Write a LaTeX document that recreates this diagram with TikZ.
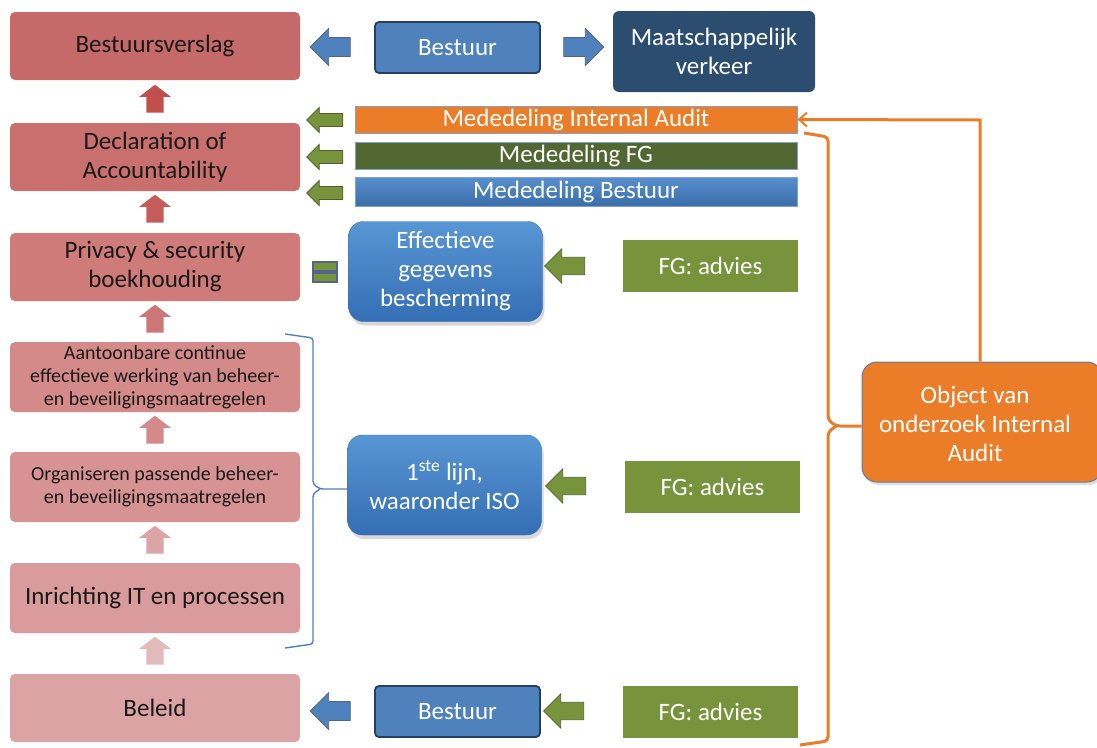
\documentclass[tikz,border=0pt]{standalone}
\usepackage{fontspec}
\setmainfont{Carlito}
\usetikzlibrary{shapes.arrows,arrows.meta,shadows}
\definecolor{rA}{RGB}{197,106,105}
\definecolor{rB}{RGB}{201,112,111}
\definecolor{rC}{RGB}{207,123,122}
\definecolor{rD}{RGB}{213,138,138}
\definecolor{rE}{RGB}{215,147,147}
\definecolor{rF}{RGB}{217,155,155}
\definecolor{rG}{RGB}{219,163,163}
\definecolor{aA}{RGB}{192,80,77}
\definecolor{aB}{RGB}{196,92,90}
\definecolor{aC}{RGB}{205,118,117}
\definecolor{aD}{RGB}{212,138,138}
\definecolor{aE}{RGB}{220,164,164}
\definecolor{aF}{RGB}{226,186,186}
\definecolor{bluef}{RGB}{79,129,189}
\definecolor{blued}{RGB}{38,64,98}
\definecolor{bluel}{RGB}{88,150,212}
\definecolor{bluek}{RGB}{52,110,180}
\definecolor{navy}{RGB}{43,78,112}
\definecolor{greenf}{RGB}{119,147,60}
\definecolor{greend}{RGB}{79,98,40}
\definecolor{greenbar}{RGB}{82,104,50}
\definecolor{orangef}{RGB}{235,125,40}
\definecolor{barline}{RGB}{130,160,200}
\definecolor{slate}{RGB}{80,100,140}
\definecolor{medblue}{RGB}{68,130,200}
\tikzset{
  big/.style={font=\fontsize{25}{29}\selectfont},
  lbox/.style={rounded corners=5pt, minimum width=290pt, minimum height=68pt, inner sep=0pt, align=center, big, text={rgb,255:red,25;green,25;blue,25}},
  small/.style={font=\fontsize{20}{23}\selectfont},
  uparr/.style={single arrow, shape border rotate=90, inner sep=8pt, minimum height=28pt, minimum width=32pt, single arrow head extend=7pt, single arrow tip angle=105, draw=none, fill=#1},
  bluearr/.style={single arrow, shape border rotate=#1, inner sep=9pt, minimum height=40pt, minimum width=36pt, single arrow head extend=9pt, fill=bluef, draw=blued!80, line width=0.8pt},
  greenarr/.style={single arrow, shape border rotate=180, inner sep=8pt, minimum height=40pt, minimum width=34pt, single arrow head extend=8pt, fill=greenf, draw=greend, line width=0.8pt},
  greensm/.style={single arrow, shape border rotate=180, inner sep=6pt, minimum height=36pt, minimum width=25pt, single arrow head extend=6pt, fill=greenf, draw=greend, line width=0.8pt},
  bestuur/.style={rounded corners=4pt, minimum width=165pt, minimum height=51pt, inner sep=0pt, fill=bluef, draw=blued, line width=1.8pt, text=white, big},
  fg/.style={minimum width=175pt, minimum height=52pt, inner sep=0pt, fill=greenf, text=white, big},
  bar/.style={minimum width=442pt, inner sep=0pt, draw=barline, line width=1pt, text=white, big},
  bigblue/.style={rounded corners=15pt, minimum width=194pt, minimum height=100pt, inner sep=0pt, align=center, top color=bluel, bottom color=bluek, draw=bluek, text=white, big, drop shadow={opacity=0.3, shadow xshift=2pt, shadow yshift=-4pt}},
  orangeline/.style={draw=orangef, line width=3pt},
  braceline/.style={draw=bluef, line width=1.4pt}
}
\begin{document}
\begin{tikzpicture}[x=1pt,y=-1pt]
\useasboundingbox[fill=white] (0,0) rectangle (1097,747);
% left column
\node[lbox, fill=rA] (L1) at (155,46) {Bestuursverslag};
\node[lbox, fill=rB] (L2) at (155,157) {Declaration of\\Accountability};
\node[lbox, fill=rC] (L3) at (155,267) {Privacy \& security\\boekhouding};
\node[lbox, fill=rD, minimum height=70pt, small] (L4) at (155,377) {Aantoonbare continue\\effectieve werking van beheer-\\en beveiligingsmaatregelen};
\node[lbox, fill=rE, minimum height=70pt, small] (L5) at (155,487) {Organiseren passende beheer-\\en beveiligingsmaatregelen};
\node[lbox, fill=rF, minimum height=70pt] (L6) at (155,598) {Inrichting IT en processen};
\node[lbox, fill=rG] (L7) at (155,708) {Beleid};
% up arrows
\node[uparr=aA] (u1) at (155,102) {};
\node[uparr=aB] (u2) at (155,212) {};
\node[uparr=aC] (u3) at (155,322) {};
\node[uparr=aD] (u4) at (155,433) {};
\node[uparr=aE] (u5) at (155,543) {};
\node[uparr=aF] (u6) at (155,654) {};
% top row
\node[bestuur] (B1) at (457.5,47.5) {Bestuur};
\node[rounded corners=6pt, minimum width=202pt, minimum height=81pt, inner sep=0pt, fill=navy, text=white, align=center, big] (MV) at (714,51.5) {Maatschappelijk\\verkeer};
\node[bluearr=180] (ba1) at (335,47) {};
\node[bluearr=0] (ba2) at (579,47) {};
% mededeling bars
\node[bar, fill=orangef, minimum height=27pt] (IA) at (576,119.5) {Mededeling Internal Audit};
\node[bar, fill=greenbar, minimum height=27pt] (MFG) at (576,155.5) {Mededeling FG};
\node[bar, top color=medblue!90!white, bottom color=medblue!85!black, minimum height=29pt] (MB) at (576,191.5) {Mededeling Bestuur};
\node[greensm] (g1) at (328,120) {};
\node[greensm] (g2) at (328,157) {};
\node[greensm] (g3) at (328,193) {};
% equals
\draw[slate, line width=1.6pt, fill=greenf] (313,262) rectangle (337,271);
\draw[slate, line width=1.6pt, fill=greenf] (313,273) rectangle (337,282);
% middle rows
\node[bigblue] (EG) at (445.5,271.5) {Effectieve\\gegevens\\bescherming};
\node[greenarr] (g4) at (569,266) {};
\node[fg] (FG1) at (710.5,266) {FG: advies};
\node[bigblue] (EL) at (444.5,485) {1\textsuperscript{ste} lijn,\\waaronder ISO};
\node[greenarr] (g5) at (570,486) {};
\node[fg] (FG2) at (712.5,487) {FG: advies};
% bottom row
\node[bestuur] (B2) at (457.5,711.5) {Bestuur};
\node[bluearr=180] (ba3) at (335,711) {};
\node[greenarr] (g6) at (568,711) {};
\node[fg] (FG3) at (710.5,712) {FG: advies};
% object box
\node[rounded corners=15pt, minimum width=240pt, minimum height=120pt, inner sep=0pt, fill=orangef, draw={rgb,255:red,95;green,125;blue,170}, line width=1pt, drop shadow={opacity=0.25, shadow xshift=2pt, shadow yshift=-3pt}] (OB) at (982,422) {};
\node[align=center, text=white, big] (OBt) at (975,424) {Object van\\onderzoek Internal\\Audit};
% orange connector to IA bar
\coordinate (oc1) at (980,120);
\draw[orangeline, -{Straight Barb[length=8pt,width=14pt,line width=2pt]}] (OB.north -| oc1) -- (oc1) -- (IA.east);
% orange brace
\coordinate (obt) at (804,133);
\coordinate (obb) at (800,745);
\coordinate (obtip) at (OB.west);
\draw[orangeline, rounded corners=4pt] (obt) -- (828,137) -- (828,420) -- (836,426) -- (obtip |- 0,426);
\draw[orangeline, rounded corners=4pt] (836,426) -- (828,432) -- (828,741) -- (obb);
% blue brace
\coordinate (bbt) at (285,334);
\coordinate (bbb) at (285,648);
\draw[braceline, rounded corners=3pt] (bbt) -- (313,338) -- (313,484) -- (320,489) -- (EL.west |- 0,489);
\draw[braceline, rounded corners=3pt] (320,489) -- (313,494) -- (313,644) -- (bbb);
\end{tikzpicture}
\end{document}
